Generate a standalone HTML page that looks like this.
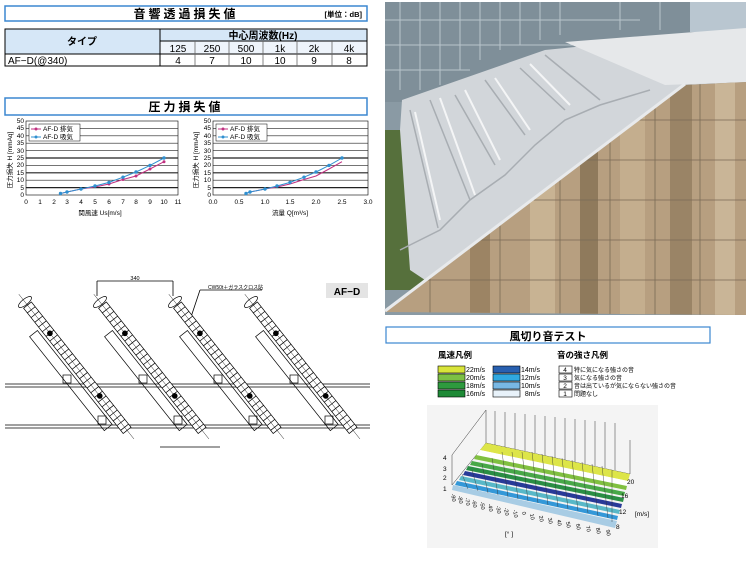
<!DOCTYPE html>
<html><head><meta charset="utf-8"><style>
body{margin:0;background:#fff}
svg text{font-family:"Liberation Sans","Noto Sans CJK JP",sans-serif}
</style></head><body>
<svg width="750" height="569" viewBox="0 0 750 569" xmlns="http://www.w3.org/2000/svg">
<defs>
<clipPath id="fac"><polygon points="385,312 685,85 746,82 746,315"/></clipPath>
</defs>
<!-- Title 1 -->
<rect x="5" y="6" width="362" height="15" fill="#fff" stroke="#3b87d0" stroke-width="1.5"/>
<text x="186" y="18" font-size="12" font-weight="bold" text-anchor="middle" letter-spacing="3">音響透過損失値</text>
<text x="362" y="17" font-size="7.5" font-weight="bold" text-anchor="end">[単位：dB]</text>
<!-- table -->
<rect x="5" y="29" width="155" height="25" fill="#d6e7f7"/>
<rect x="160" y="29" width="207" height="12" fill="#d6e7f7"/>
<rect x="160" y="41" width="207" height="13" fill="#eef4fb"/>
<rect x="5" y="29" width="362" height="37" fill="none" stroke="#000" stroke-width="1"/>
<line x1="160" y1="29" x2="160" y2="66" stroke="#000"/>
<line x1="5" y1="54" x2="367" y2="54" stroke="#000"/>
<line x1="160" y1="41" x2="367" y2="41" stroke="#000"/>
<g stroke="#666" stroke-width="0.8">
<line x1="195" y1="41" x2="195" y2="66"/><line x1="229" y1="41" x2="229" y2="66"/><line x1="263" y1="41" x2="263" y2="66"/><line x1="297" y1="41" x2="297" y2="66"/><line x1="332" y1="41" x2="332" y2="66"/>
</g>
<g font-size="10" text-anchor="middle">
<text x="82" y="45" font-weight="bold">タイプ</text>
<text x="263" y="39" font-weight="bold">中心周波数(Hz)</text>
<text x="178" y="52">125</text><text x="212" y="52">250</text><text x="246" y="52">500</text><text x="280" y="52">1k</text><text x="314" y="52">2k</text><text x="349" y="52">4k</text>
<text x="178" y="64">4</text><text x="212" y="64">7</text><text x="246" y="64">10</text><text x="280" y="64">10</text><text x="314" y="64">9</text><text x="349" y="64">8</text>
<text x="8" y="64" text-anchor="start">AF−D(@340)</text>
</g>
<!-- Title 2 -->
<rect x="5" y="98" width="362" height="17" fill="#fff" stroke="#3b87d0" stroke-width="1.5"/>
<text x="186" y="111" font-size="12" font-weight="bold" text-anchor="middle" letter-spacing="3">圧力損失値</text>
<!-- left chart -->
<g font-size="6.5">
<rect x="26" y="121" width="152" height="74" fill="#fff" stroke="#000" stroke-width="0.6"/>
<g stroke="#222" stroke-width="0.6">
<line x1="26" y1="128.4" x2="178" y2="128.4"/><line x1="26" y1="135.8" x2="178" y2="135.8"/><line x1="26" y1="143.2" x2="178" y2="143.2"/><line x1="26" y1="150.6" x2="178" y2="150.6"/><line x1="26" y1="158" x2="178" y2="158" stroke-width="1.2"/><line x1="26" y1="165.4" x2="178" y2="165.4"/><line x1="26" y1="172.8" x2="178" y2="172.8" stroke-width="1.2"/><line x1="26" y1="180.2" x2="178" y2="180.2"/><line x1="26" y1="187.6" x2="178" y2="187.6" stroke-width="1.2"/>
</g>
<g text-anchor="end"><text x="24" y="123">50</text><text x="24" y="130">45</text><text x="24" y="138">40</text><text x="24" y="145">35</text><text x="24" y="153">30</text><text x="24" y="160">25</text><text x="24" y="167">20</text><text x="24" y="175">15</text><text x="24" y="182">10</text><text x="24" y="190">5</text><text x="24" y="197">0</text></g>
<g text-anchor="middle"><text x="26" y="204">0</text><text x="40" y="204">1</text><text x="54" y="204">2</text><text x="67" y="204">3</text><text x="81" y="204">4</text><text x="95" y="204">5</text><text x="109" y="204">6</text><text x="123" y="204">7</text><text x="136" y="204">8</text><text x="150" y="204">9</text><text x="164" y="204">10</text><text x="178" y="204">11</text>
<text x="100" y="215">関風速 Us[m/s]</text></g>
<text transform="translate(12,160) rotate(-90)" text-anchor="middle">圧力損失 H [mmAq]</text>
<rect x="29" y="124" width="51" height="17" fill="#fff" stroke="#000" stroke-width="0.5"/>
<line x1="31" y1="129" x2="41" y2="129" stroke="#c03080"/><circle cx="36" cy="129" r="1.5" fill="#c03080"/><text x="43" y="131">AF-D 排気</text>
<line x1="31" y1="137" x2="41" y2="137" stroke="#3090d0"/><circle cx="36" cy="137" r="1.5" fill="#3090d0"/><text x="43" y="139">AF-D 吸気</text>
<polyline fill="none" stroke="#c03080" stroke-width="1" points="60.5,193.5 67,192 81,189 95,187 109,184 123,179.5 136,176 150,169 164,161.7"/>
<polyline fill="none" stroke="#3090d0" stroke-width="1" points="60.5,193.5 67,192 81,189 95,186 109,182.4 123,177.2 136,172 150,165.4 164,158"/>
<g fill="#c03080"><circle cx="109" cy="184" r="1.5"/><circle cx="123" cy="179.5" r="1.5"/><circle cx="136" cy="176" r="1.5"/><circle cx="150" cy="169" r="1.5"/><circle cx="164" cy="161.7" r="1.5"/></g>
<g fill="#3090d0"><circle cx="60.5" cy="193.5" r="1.7"/><circle cx="67" cy="192" r="1.7"/><circle cx="81" cy="189" r="1.7"/><circle cx="95" cy="186" r="1.7"/><circle cx="109" cy="182.4" r="1.7"/><circle cx="123" cy="177.2" r="1.7"/><circle cx="136" cy="172" r="1.7"/><circle cx="150" cy="165.4" r="1.7"/><circle cx="164" cy="158" r="1.7"/></g>
</g>
<!-- right chart -->
<g font-size="6.5">
<rect x="213" y="121" width="155" height="74" fill="#fff" stroke="#000" stroke-width="0.6"/>
<g stroke="#222" stroke-width="0.6">
<line x1="213" y1="128.4" x2="368" y2="128.4"/><line x1="213" y1="135.8" x2="368" y2="135.8"/><line x1="213" y1="143.2" x2="368" y2="143.2"/><line x1="213" y1="150.6" x2="368" y2="150.6"/><line x1="213" y1="158" x2="368" y2="158" stroke-width="1.2"/><line x1="213" y1="165.4" x2="368" y2="165.4"/><line x1="213" y1="172.8" x2="368" y2="172.8" stroke-width="1.2"/><line x1="213" y1="180.2" x2="368" y2="180.2"/><line x1="213" y1="187.6" x2="368" y2="187.6" stroke-width="1.2"/>
</g>
<g text-anchor="end"><text x="211" y="123">50</text><text x="211" y="130">45</text><text x="211" y="138">40</text><text x="211" y="145">35</text><text x="211" y="153">30</text><text x="211" y="160">25</text><text x="211" y="167">20</text><text x="211" y="175">15</text><text x="211" y="182">10</text><text x="211" y="190">5</text><text x="211" y="197">0</text></g>
<g text-anchor="middle"><text x="213" y="204">0.0</text><text x="239" y="204">0.5</text><text x="265" y="204">1.0</text><text x="290" y="204">1.5</text><text x="316" y="204">2.0</text><text x="342" y="204">2.5</text><text x="368" y="204">3.0</text>
<text x="290" y="215">流量 Q[m³/s]</text></g>
<text transform="translate(198,160) rotate(-90)" text-anchor="middle">圧力損失 H [mmAq]</text>
<rect x="216" y="124" width="51" height="17" fill="#fff" stroke="#000" stroke-width="0.5"/>
<line x1="218" y1="129" x2="228" y2="129" stroke="#c03080"/><circle cx="223" cy="129" r="1.5" fill="#c03080"/><text x="230" y="131">AF-D 排気</text>
<line x1="218" y1="137" x2="228" y2="137" stroke="#3090d0"/><circle cx="223" cy="137" r="1.5" fill="#3090d0"/><text x="230" y="139">AF-D 吸気</text>
<polyline fill="none" stroke="#c03080" stroke-width="1" points="246,193.5 250,192 265,189 277,187 290,184 304,179.5 316,176 329,169 342,161.7"/>
<polyline fill="none" stroke="#3090d0" stroke-width="1" points="246,193.5 250,192 265,189 277,186 290,182.4 304,177.2 316,172 329,165.4 342,158"/>
<g fill="#3090d0"><circle cx="246" cy="193.5" r="1.7"/><circle cx="250" cy="192" r="1.7"/><circle cx="265" cy="189" r="1.7"/><circle cx="277" cy="186" r="1.7"/><circle cx="290" cy="182.4" r="1.7"/><circle cx="304" cy="177.2" r="1.7"/><circle cx="316" cy="172" r="1.7"/><circle cx="329" cy="165.4" r="1.7"/><circle cx="342" cy="158" r="1.7"/></g>
</g>
<!-- drawing -->
<rect x="326" y="283" width="42" height="15" fill="#e4e4e4"/>
<text x="347" y="295" font-size="10" font-weight="bold" text-anchor="middle">AF−D</text>
<g stroke="#000" fill="none" stroke-width="0.8">
<line x1="5" y1="384" x2="370" y2="384"/><line x1="5" y1="387" x2="370" y2="387"/>
<line x1="5" y1="425" x2="370" y2="425"/><line x1="5" y1="428" x2="370" y2="428"/>
<line x1="97" y1="281" x2="173" y2="281"/><line x1="97" y1="281" x2="97" y2="296"/><line x1="173" y1="281" x2="173" y2="296"/>
<line x1="160" y1="447" x2="220" y2="447"/>
<line x1="200" y1="290" x2="190" y2="320"/><line x1="200" y1="290" x2="262" y2="290"/>
</g>
<text x="135" y="280" font-size="5.5" text-anchor="middle">340</text>
<text x="208" y="289" font-size="5">CW50t＋ガラスクロス貼</text>
<g id="slat">
<g transform="translate(25,302) rotate(51.5)" stroke="#000" fill="none" stroke-width="0.7">
<ellipse cx="0" cy="0" rx="3" ry="8" fill="#fff"/>
<rect x="4" y="-5" width="160" height="10" fill="#fff"/>
<path d="M10,-5v10M16,-5v10M22,-5v10M28,-5v10M34,-5v10M40,-5v10M46,-5v10M52,-5v10M58,-5v10M64,-5v10M70,-5v10M76,-5v10M82,-5v10M88,-5v10M94,-5v10M100,-5v10M106,-5v10M112,-5v10M118,-5v10M124,-5v10M130,-5v10M136,-5v10M142,-5v10M148,-5v10M154,-5v10M160,-5v10"/>
<rect x="30" y="8" width="120" height="10"/>
<circle cx="40" cy="0" r="2.5" fill="#000"/><circle cx="120" cy="0" r="2.5" fill="#000"/>
<line x1="-10" y1="0" x2="175" y2="0" stroke-width="0.4"/>
</g>
</g>
<use href="#slat" x="75"/><use href="#slat" x="150"/><use href="#slat" x="226"/>
<g stroke="#000" fill="none" stroke-width="0.7">
<rect x="63" y="375" width="8" height="8"/><rect x="139" y="375" width="8" height="8"/><rect x="214" y="375" width="8" height="8"/><rect x="290" y="375" width="8" height="8"/>
<rect x="98" y="416" width="8" height="8"/><rect x="174" y="416" width="8" height="8"/><rect x="249" y="416" width="8" height="8"/><rect x="325" y="416" width="8" height="8"/>
</g>
<!-- photo -->
<rect x="385" y="2" width="361" height="313" fill="#8a9aa4"/>
<rect x="385" y="2" width="361" height="100" fill="#7f8f99"/>
<g stroke="#b8c4cc" stroke-width="1"><path d="M400,2V90M420,2V90M440,2V85M460,2V70M480,2V60M500,2V50M520,2V45M540,2V40M560,2V35M620,2V30M660,2V30M700,2V30M385,20H640M385,45H580M385,70H470"/></g>
<rect x="690" y="2" width="56" height="30" fill="#b9c6d0"/>
<rect x="385" y="130" width="55" height="160" fill="#56703c"/>
<polygon points="402,100 545,50 595,45 745,30 746,82 685,85 440,290 410,270 400,130" fill="#d2d6da"/>
<polygon points="565,42 746,28 746,82 665,85" fill="#e6e8ea"/>
<g stroke="#a8adb2" stroke-width="1.5" fill="none">
<path d="M410,110 L438,228M430,100 L470,200M455,95 L495,165M485,80 L525,135M520,68 L565,110M545,55 L600,100M400,250 L440,230 L470,200 L505,175 L535,145 L565,120 L600,105 L650,90"/>
</g>
<g stroke="#f4f5f6" stroke-width="2" fill="none"><path d="M415,112 L440,220M440,98 L475,195M465,90 L500,160M495,78 L530,130M530,64 L570,105"/></g>
<polygon points="385,312 685,85 746,82 746,315" fill="#b79f80"/>
<g clip-path="url(#fac)">
<rect x="470" y="180" width="20" height="140" fill="#9c8464"/><rect x="530" y="150" width="25" height="170" fill="#c8b393"/><rect x="580" y="120" width="18" height="200" fill="#8f7a5c"/><rect x="620" y="100" width="25" height="220" fill="#c4ae8e"/><rect x="670" y="80" width="22" height="240" fill="#9a8466"/><rect x="715" y="80" width="20" height="240" fill="#c9b597"/>
<g stroke="#7a6a55" stroke-width="0.8"><path d="M430,0V320M500,0V320M560,0V320M610,0V320M655,0V320M700,0V320M385,200H746M385,240H746M385,280H746M385,160H746M385,120H746"/></g>
</g>
<line x1="385" y1="311" x2="685" y2="84" stroke="#e8eaec" stroke-width="3"/>
<!-- wind noise test -->
<rect x="386" y="327" width="324" height="16" fill="#fff" stroke="#3b87d0" stroke-width="1.2"/>
<text x="548" y="340" font-size="11" font-weight="bold" text-anchor="middle">風切り音テスト</text>
<g font-size="7">
<text x="438" y="358" font-size="8.5" font-weight="bold">風速凡例</text>
<text x="557" y="358" font-size="8.5" font-weight="bold">音の強さ凡例</text>
<g stroke="#000" stroke-width="0.6">
<rect x="438" y="366" width="27" height="7" fill="#d8e43a"/><rect x="438" y="374" width="27" height="7" fill="#7cc044"/><rect x="438" y="382" width="27" height="7" fill="#2e9a3e"/><rect x="438" y="390" width="27" height="7" fill="#1e8a36"/>
<rect x="493" y="366" width="27" height="7" fill="#2860b0"/><rect x="493" y="374" width="27" height="7" fill="#30a8e0"/><rect x="493" y="382" width="27" height="7" fill="#78b8e4"/><rect x="493" y="390" width="27" height="7" fill="#e8f2fa"/>
<rect x="559" y="366" width="13" height="7" fill="#fff"/><rect x="559" y="374" width="13" height="7" fill="#fff"/><rect x="559" y="382" width="13" height="7" fill="#fff"/><rect x="559" y="390" width="13" height="7" fill="#fff"/>
</g>
<text x="466" y="372">22m/s</text><text x="466" y="380">20m/s</text><text x="466" y="388">18m/s</text><text x="466" y="396">16m/s</text>
<text x="540" y="372" text-anchor="end">14m/s</text><text x="540" y="380" text-anchor="end">12m/s</text><text x="540" y="388" text-anchor="end">10m/s</text><text x="540" y="396" text-anchor="end">8m/s</text>
<g text-anchor="middle" font-size="6.5"><text x="565" y="372">4</text><text x="565" y="380">3</text><text x="565" y="388">2</text><text x="565" y="396">1</text></g>
<g font-size="6"><text x="574" y="372">特に気になる強さの音</text><text x="574" y="380">気になる強さの音</text><text x="574" y="388">音は出ているが気にならない強さの音</text><text x="574" y="396">問題なし</text></g>
</g>
<rect x="427" y="405" width="231" height="143" fill="#f4f4f4"/>
<g stroke="#333" stroke-width="0.5" fill="none">
<path d="M452,485 L486,443 L486,410 M486,443 L630,474 L630,440 M452,485 L452,455 L486,410"/>
<path d="M495,411V445M505,412V447M515,413V449M525,414V451M535,415V453M545,416V456M555,417V458M565,418V460M575,419V462M585,420V464M595,421V466M605,422V468M615,423V470"/>
</g>
<g>
<polygon points="486,443 630,474 628,481 480,450" fill="#dde548"/>
<polygon points="480,450 628,481 626,488 475,457" fill="#fff"/>
<polygon points="476,455 627,486 626,490 474,459" fill="#80c040"/>
<polygon points="472,461 625,492 624,496 470,465" fill="#48a848"/>
<polygon points="468,466 624,498 623,502 466,470" fill="#2a8e44"/>
<polygon points="465,471 622,504 621,508 463,475" fill="#283a98"/>
<polygon points="461,476 620,510 619,514 459,480" fill="#58b8c8"/>
<polygon points="457,481 618,516 617,520 455,485" fill="#3498d8"/>
<polygon points="453,485 617,521 615,528 452,490" fill="#a8cce4"/>
</g>
<g stroke="#333" stroke-width="0.4"><path d="M462,474L468,489M472,470L478,491M482,464L488,493M492,458L498,495M502,452L508,497M512,452L518,499M522,452L528,501M532,452L538,503M542,454L548,505M552,456L558,507M562,458L568,509M572,460L578,511M582,462L588,513M592,464L598,516M602,466L608,518M612,470L612,522"/></g>
<g font-size="6.5">
<text x="443" y="460">4</text><text x="443" y="471">3</text><text x="443" y="480">2</text><text x="443" y="491">1</text>
<text x="627" y="484">20</text><text x="621" y="498">16</text><text x="619" y="514">12</text><text x="635" y="516">[m/s]</text><text x="616" y="529">8</text>
<text x="505" y="536">[° ]</text>
</g>
<g font-size="5.5">
<text transform="translate(451,494) rotate(80)">-90</text><text transform="translate(458,496) rotate(80)">-80</text><text transform="translate(465,498) rotate(80)">-70</text><text transform="translate(472,500) rotate(80)">-60</text><text transform="translate(480,502) rotate(80)">-50</text><text transform="translate(488,504) rotate(80)">-40</text><text transform="translate(496,506) rotate(80)">-30</text><text transform="translate(504,508) rotate(80)">-20</text><text transform="translate(513,510) rotate(80)">-10</text><text transform="translate(522,512) rotate(80)">0</text><text transform="translate(530,514) rotate(80)">10</text><text transform="translate(539,516) rotate(80)">20</text><text transform="translate(548,518) rotate(80)">30</text><text transform="translate(557,520) rotate(80)">40</text><text transform="translate(566,522) rotate(80)">50</text><text transform="translate(576,524) rotate(80)">60</text><text transform="translate(586,526) rotate(80)">70</text><text transform="translate(596,528) rotate(80)">80</text><text transform="translate(606,530) rotate(80)">90</text>
</g>
</svg>
</body></html>
